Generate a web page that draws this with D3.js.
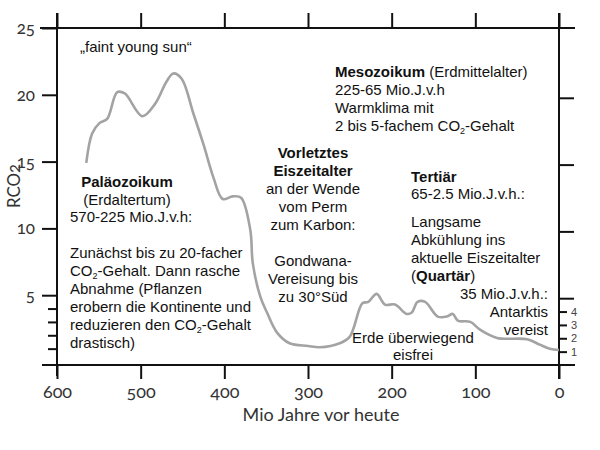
<!DOCTYPE html>
<html><head><meta charset="utf-8">
<script src="https://cdn.jsdelivr.net/npm/d3@7"></script>
<style>
body{margin:0;background:#fff;}
.ax{font-family:"Lato",sans-serif;font-feature-settings:"onum" 1;font-variant-numeric:oldstyle-nums;fill:#333;}
.t{font-family:"Liberation Sans",Arial,sans-serif;font-size:15px;fill:#111;}
</style></head><body>
<svg id="c" width="600" height="450"></svg>
<script>
// Data: Mio Jahre vor heute and RCO2
const ages = [565,558,549,540,528,519,498,483,469,461,451,437,425,413,402,390,380,369,366,357,349,337,322,300,286,262,250,235,228,218,208,196,182,176,169,160,145,134,127,121,106,94,74,38,23,11,0];
const rco2 = [14.9,17.1,17.9,18.2,20.2,20.1,18.4,19.3,21.0,21.6,21.2,18.6,16.3,13.8,12.2,12.4,12.3,9.9,7.4,4.9,3.7,2.2,1.4,1.2,1.1,1.4,1.9,4.4,4.5,5.1,4.3,4.3,3.6,3.7,4.5,4.5,3.4,3.4,3.6,3.1,3.0,2.4,1.8,1.7,1.3,1.0,0.9];
const xTicks = [600,500,400,300,200,100,0];
const yMajor = [5,10,15,20];
const yMinor = [1,2,3,4];
const rightLabels = ["1","2","3","4"];

const svg = d3.select("#c");
const x = d3.scaleLinear().domain([600,0]).range([57,559]);
const y = d3.scaleLinear().domain([0,25]).range([362,28]);
const yR = d3.scaleLinear().domain([0,25]).range([365,31]);
const ax = svg.append("g").attr("stroke","#111").attr("stroke-width",2);

// frame lines
const yBottom = 365, yTop = y(25);
ax.append("line").attr("x1",40).attr("x2",575).attr("y1",yTop).attr("y2",yTop);
ax.append("line").attr("x1",42).attr("x2",575).attr("y1",yBottom).attr("y2",yBottom);
ax.append("line").attr("x1",x(600)).attr("x2",x(600)).attr("y1",13).attr("y2",376);
ax.append("line").attr("x1",x(0)).attr("x2",x(0)).attr("y1",13).attr("y2",379);

function style(g){g.select(".domain").remove();g.selectAll("line").attr("stroke","#111").attr("stroke-width",2);}

// bottom axis
svg.append("g").attr("transform",`translate(0,${yBottom})`)
  .call(d3.axisBottom(x).tickValues(xTicks).tickSize(14).tickPadding(6).tickFormat(d3.format("d")))
  .call(style)
  .call(g=>g.selectAll("text").attr("class","ax").style("font-size","18px").attr("fill","#333"));
// top axis
svg.append("g").attr("transform",`translate(0,${yTop})`)
  .call(d3.axisTop(x).tickValues(xTicks).tickSize(15).tickFormat(""))
  .call(style);
// left axis
svg.append("g").attr("transform",`translate(${x(600)},0)`)
  .call(d3.axisLeft(y).tickValues(yMajor.concat([25])).tickSize(15).tickPadding(7).tickFormat(d3.format("d")))
  .call(style)
  .call(g=>g.selectAll("text").attr("class","ax").style("font-size","17px").attr("fill","#333"));
svg.append("g").attr("transform",`translate(${x(600)},0)`)
  .call(d3.axisLeft(y).tickValues(yMinor).tickSize(9).tickFormat(""))
  .call(style);
// right axis
svg.append("g").attr("transform",`translate(${x(0)},0)`)
  .call(d3.axisRight(yR).tickValues(yMajor).tickSize(15).tickFormat(""))
  .call(style);
svg.append("g").attr("transform",`translate(${x(0)},0)`)
  .call(d3.axisRight(yR).tickValues(yMinor).tickSize(8).tickPadding(4).tickFormat((d,i)=>rightLabels[i]))
  .call(style)
  .call(g=>g.selectAll("text").style("font-family","'Liberation Sans',sans-serif").style("font-size","11px").attr("fill","#444"));

// axis titles
svg.append("text").attr("class","ax").attr("x",321).attr("y",421).attr("text-anchor","middle")
  .style("font-size","18px").text("Mio Jahre vor heute");
svg.append("text").attr("class","ax").attr("transform","translate(20,186) rotate(-90)").attr("text-anchor","middle")
  .attr("textLength",44).attr("lengthAdjust","spacingAndGlyphs")
  .style("font-size","17px").text("RCO2");

// curve
svg.append("path").datum(ages.map((a,i)=>[a,rco2[i]]))
  .attr("fill","none").attr("stroke","#a3a3a3").attr("stroke-width",2.6).attr("stroke-linejoin","round")
  .attr("d",d3.line().x(d=>x(d[0])).y(d=>y(d[1])).curve(d3.curveCatmullRom.alpha(0.5)));

// annotations: each line is array of segments [text, bold, sub, unsub]
function block(x0,y0,anchor,lines,lh){
  lines.forEach((ln,i)=>{
    if(ln===null) return;
    const t = svg.append("text").attr("class","t").attr("x",x0).attr("y",y0+i*lh).attr("text-anchor",anchor);
    ln.forEach(seg=>{
      const s = t.append("tspan").text(seg[0]);
      if(seg[1]) s.attr("font-weight","bold");
      if(seg[2]) s.attr("font-size","9px").attr("dy",3);
      if(seg[3]) s.attr("dy",-3);
    });
  });
}
block(80,52,"start",[[["„faint young sun“"]]],18);
block(127,187,"middle",[[["Paläozoikum",1]],[["(Erdaltertum)"]]],17.5);
block(70,222,"start",[[["570-225 Mio.J.v.h:"]],null,
  [["Zunächst bis zu 20-facher"]],
  [["CO"],["2",0,1],["-Gehalt. Dann rasche",0,0,1]],
  [["Abnahme (Pflanzen"]],
  [["erobern die Kontinente und"]],
  [["reduzieren den CO"],["2",0,1],["-Gehalt",0,0,1]],
  [["drastisch)"]]],18);
block(313,158,"middle",[[["Vorletztes",1]],[["Eiszeitalter",1]],[["an der Wende"]],[["vom Perm"]],[["zum Karbon:"]],null,
  [["Gondwana-"]],[["Vereisung bis"]],[["zu 30°Süd"]]],18);
block(335,77,"start",[[["Mesozoikum",1],[" (Erdmittelalter)"]],[["225-65 Mio.J.v.h"]],[["Warmklima mit"]],
  [["2 bis 5-fachem CO"],["2",0,1],["-Gehalt",0,0,1]]],18);
block(411,182,"start",[[["Tertiär",1]],[["65-2.5 Mio.J.v.h.:"]]],17);
block(411,227,"start",[[["Langsame"]],[["Abkühlung ins"]],[["aktuelle Eiszeitalter"]],[["("],["Quartär",1],[")"]]],18);
block(548,299,"end",[[["35 Mio.J.v.h.:"]],[["Antarktis"]],[["vereist"]]],18);
block(413,343,"middle",[[["Erde überwiegend"]],[["eisfrei"]]],17);
</script></body></html>
